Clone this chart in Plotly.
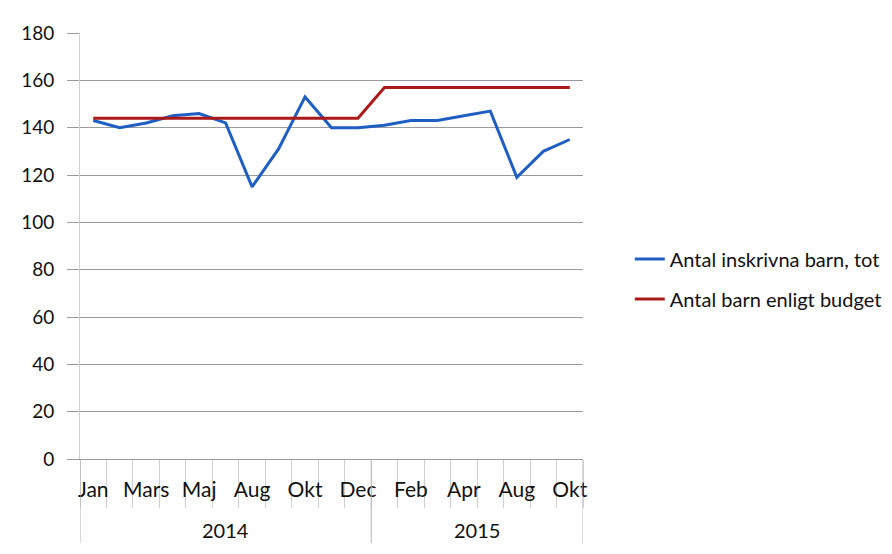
import plotly.graph_objects as go

months = ["Jan", "Feb", "Mars", "Apr", "Maj", "Jun", "Aug", "Sep", "Okt", "Nov", "Dec",
          "Jan", "Feb", "Mars", "Apr", "Maj", "Aug", "Sep", "Okt"]
years = ["2014"] * 11 + ["2015"] * 8
inskrivna = [143, 140, 142, 145, 146, 142, 115, 131, 153, 140, 140,
             141, 143, 143, 145, 147, 119, 130, 135]
budget = [144, 144, 144, 144, 144, 144, 144, 144, 144, 144, 144,
          157, 157, 157, 157, 157, 157, 157, 157]
y_ticks = [0, 20, 40, 60, 80, 100, 120, 140, 160, 180]

x = list(range(len(months)))
FONT = "Lato"
TXT = "#111111"

fig = go.Figure()
fig.add_trace(go.Scatter(x=x, y=inskrivna, mode="lines", name="Antal inskrivna barn, tot",
                         legendgroup="a", line=dict(color="#1f5ec2", width=3)))
fig.add_trace(go.Scatter(x=x, y=budget, mode="lines", name="Antal barn enligt budget",
                         legendgroup="b", line=dict(color="#ab1a1a", width=3)))

# year groups: separators and labels
groups = []
for i, yv in enumerate(years):
    if not groups or groups[-1][0] != yv:
        groups.append([yv, i, i])
    else:
        groups[-1][2] = i
shapes = []
annotations = []
bounds = sorted({g[1] - 0.5 for g in groups} | {g[2] + 0.5 for g in groups})
for b in bounds:
    shapes.append(dict(type="line", xref="x", yref="paper", x0=b, x1=b, y0=0, y1=-0.197,
                       line=dict(color="#b5b5b5", width=1)))
for yv, a, b in groups:
    annotations.append(dict(x=(a + b) / 2, y=-0.167, xref="x", yref="paper", text=yv,
                            showarrow=False, font=dict(family=FONT, size=20, color=TXT),
                            yanchor="middle"))

fig.update_layout(
    width=892, height=554,
    margin=dict(l=72, r=317, t=25, b=103),
    paper_bgcolor="white", plot_bgcolor="white",
    font=dict(family=FONT, size=20, color=TXT),
    showlegend=True,
    legend=dict(x=1.093, y=0.4225, xanchor="left", yanchor="middle",
                traceorder="grouped",
                font=dict(family=FONT, size=20, color=TXT), tracegroupgap=11,
                bgcolor="rgba(0,0,0,0)"),
    shapes=shapes, annotations=annotations,
)
fig.update_xaxes(range=[-0.5, len(months) - 0.5], tickmode="array",
                 tickvals=x[::2], ticktext=months[::2], ticks="",
                 ticklabelstandoff=12,
                 showgrid=False, zeroline=False,
                 showline=True, linecolor="#9a9a9a", linewidth=1,
                 minor=dict(ticks="outside", tick0=-0.5, dtick=1, ticklen=48,
                            tickcolor="#cfcfcf", tickwidth=1, showgrid=False),
                 tickfont=dict(family=FONT, size=21, color=TXT))
fig.update_yaxes(range=[0, 180], tickmode="array", tickvals=y_ticks,
                 ticks="outside", ticklen=12, tickcolor="#9a9a9a",
                 ticklabelstandoff=9,
                 showgrid=True, gridcolor="#9a9a9a", gridwidth=1,
                 zeroline=False, showline=True, linecolor="#d0d0d0",
                 tickfont=dict(family=FONT, size=19, color=TXT))

fig.write_html("out.html")
